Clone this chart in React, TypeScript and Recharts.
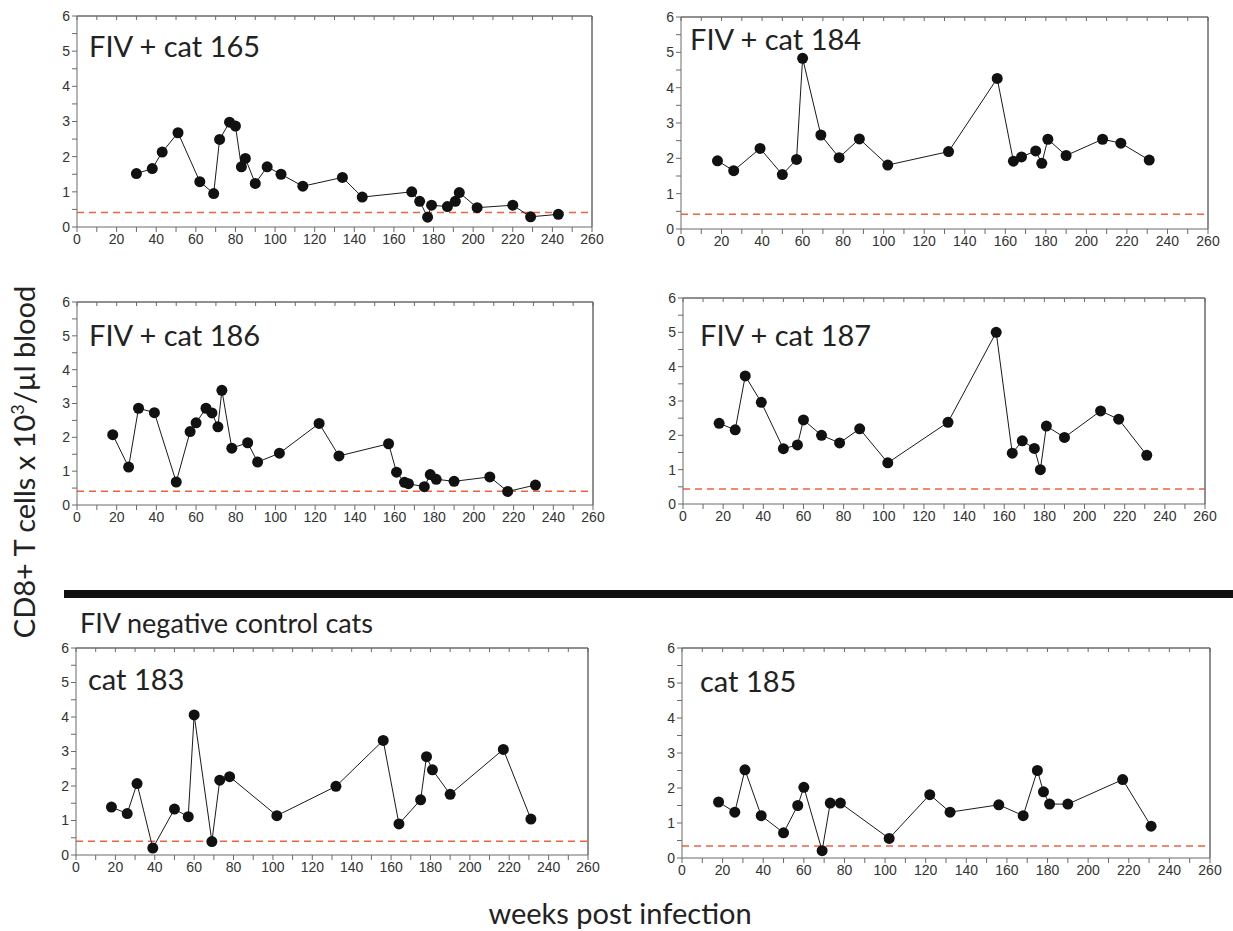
import { LineChart, Line, XAxis, YAxis, ReferenceLine } from 'recharts';

const xTicks = [0, 10, 20, 30, 40, 50, 60, 70, 80, 90, 100, 110, 120, 130, 140, 150, 160, 170, 180, 190, 200, 210, 220, 230, 240, 250, 260];
const yTicks = [0, 0.5, 1, 1.5, 2, 2.5, 3, 3.5, 4, 4.5, 5, 5.5, 6];

// FIV + cat 165
const weeks165 = [30, 38, 43, 51, 62, 69, 72, 77, 80, 83, 85, 90, 96, 103, 114, 134, 144, 169, 173, 177, 179, 187, 191, 193, 202, 220, 229, 243];
const cd8_165 = [1.52, 1.66, 2.13, 2.68, 1.29, 0.95, 2.49, 2.98, 2.87, 1.71, 1.95, 1.24, 1.71, 1.5, 1.16, 1.41, 0.85, 1.0, 0.73, 0.28, 0.62, 0.58, 0.73, 0.98, 0.55, 0.62, 0.29, 0.36];

// FIV + cat 184
const weeks184 = [18, 26, 39, 50, 57, 60, 69, 78, 88, 102, 132, 156, 164, 168, 175, 178, 181, 190, 208, 217, 231];
const cd8_184 = [1.93, 1.65, 2.28, 1.54, 1.97, 4.83, 2.66, 2.02, 2.55, 1.81, 2.19, 4.26, 1.92, 2.04, 2.21, 1.86, 2.54, 2.08, 2.54, 2.43, 1.95];

// FIV + cat 186
const weeks186 = [18, 26, 31, 39, 50, 57, 60, 65, 68, 71, 73, 78, 86, 91, 102, 122, 132, 157, 161, 165, 167, 175, 178, 181, 190, 208, 217, 231];
const cd8_186 = [2.08, 1.12, 2.86, 2.73, 0.68, 2.17, 2.43, 2.86, 2.72, 2.31, 3.39, 1.68, 1.84, 1.27, 1.53, 2.41, 1.45, 1.81, 0.97, 0.67, 0.63, 0.54, 0.9, 0.76, 0.7, 0.83, 0.4, 0.59];

// FIV + cat 187
const weeks187 = [18, 26, 31, 39, 50, 57, 60, 69, 78, 88, 102, 132, 156, 164, 169, 175, 178, 181, 190, 208, 217, 231];
const cd8_187 = [2.35, 2.16, 3.73, 2.96, 1.61, 1.72, 2.45, 2.0, 1.78, 2.19, 1.2, 2.38, 5.0, 1.48, 1.84, 1.62, 1.0, 2.27, 1.94, 2.71, 2.47, 1.42];

// control cat 183
const weeks183 = [18, 26, 31, 39, 50, 57, 60, 69, 73, 78, 102, 132, 156, 164, 175, 178, 181, 190, 217, 231];
const cd8_183 = [1.39, 1.2, 2.07, 0.2, 1.33, 1.11, 4.06, 0.39, 2.17, 2.27, 1.14, 1.99, 3.32, 0.9, 1.6, 2.85, 2.47, 1.76, 3.06, 1.04];

// control cat 185
const weeks185 = [18, 26, 31, 39, 50, 57, 60, 69, 73, 78, 102, 122, 132, 156, 168, 175, 178, 181, 190, 217, 231];
const cd8_185 = [1.6, 1.31, 2.52, 1.21, 0.72, 1.5, 2.02, 0.21, 1.57, 1.57, 0.56, 1.81, 1.31, 1.52, 1.21, 2.5, 1.89, 1.54, 1.54, 2.24, 0.91];

const cutoffs = { c165: 0.41, c184: 0.42, c186: 0.41, c187: 0.44, c183: 0.4, c185: 0.34 };

const tickFont = { fill: '#333', fontSize: 14, fontFamily: '"Liberation Sans", Arial, sans-serif' };
const frame = '#6a6a6a';

type Box = { left: number; top: number; right: number; bottom: number };

function Panel({ weeks, values, cutoff, box, title, titleX, titleY }: {
  weeks: number[]; values: number[]; cutoff: number; box: Box; title: string; titleX: number; titleY: number;
}) {
  const data = weeks.map((w, i) => ({ week: w, cd8: values[i] }));
  const yAxisW = 40;
  const chartLeft = box.left - yAxisW - 5;
  const chartTop = box.top - 10;
  const width = box.right - chartLeft + 24;
  const height = box.bottom - chartTop + 32;
  return (
    <>
      <div style={{ position: 'absolute', left: chartLeft, top: chartTop }}>
        <LineChart width={width} height={height} data={data} margin={{ top: 10, right: 23, left: 5, bottom: 0 }}>
          <XAxis
            xAxisId="b"
            dataKey="week"
            type="number"
            domain={[0, 260]}
            ticks={xTicks}
            interval={0}
            height={32}
            stroke={frame}
            tickSize={5}
            tick={tickFont}
            tickFormatter={(v) => (v % 20 === 0 ? String(v) : '')}
          />
          <XAxis
            xAxisId="t"
            orientation="top"
            dataKey="week"
            type="number"
            domain={[0, 260]}
            ticks={xTicks}
            interval={0}
            height={1}
            mirror
            stroke={frame}
            tickSize={4}
            tick={{ fontSize: 0 }}
            tickFormatter={() => ''}
          />
          <YAxis
            yAxisId="l"
            type="number"
            domain={[0, 6]}
            ticks={yTicks}
            interval={0}
            width={yAxisW}
            stroke={frame}
            tickSize={5}
            tick={tickFont}
            tickFormatter={(v) => (Number.isInteger(v) ? String(v) : '')}
          />
          <YAxis
            yAxisId="r"
            orientation="right"
            type="number"
            domain={[0, 6]}
            ticks={yTicks}
            interval={0}
            width={1}
            mirror
            stroke={frame}
            tickSize={4}
            tick={{ fontSize: 0 }}
            tickFormatter={() => ''}
          />
          <ReferenceLine xAxisId="b" yAxisId="l" y={6} stroke={frame} strokeWidth={1} />
          <ReferenceLine xAxisId="b" yAxisId="l" x={260} stroke={frame} strokeWidth={1} />
          <ReferenceLine xAxisId="b" yAxisId="l" y={cutoff} stroke="#f0623c" strokeWidth={1.5} strokeDasharray="7 5" />
          <Line
            xAxisId="b"
            yAxisId="l"
            type="linear"
            dataKey="cd8"
            stroke="#1a1a1a"
            strokeWidth={1}
            dot={{ r: 5.5, fill: '#111', stroke: '#111', strokeWidth: 0 }}
            isAnimationActive={false}
          />
        </LineChart>
      </div>
      <div style={{ position: 'absolute', left: titleX, top: titleY, transform: 'translateY(-50%)', fontFamily: 'Lato, sans-serif', fontSize: 29, color: '#222', whiteSpace: 'nowrap' }}>
        {title}
      </div>
    </>
  );
}

export default function App() {
  return (
    <div style={{ position: 'absolute', left: 0, top: 0, width: 1233, height: 931, background: '#fff', overflow: 'hidden' }}>
      <Panel weeks={weeks165} values={cd8_165} cutoff={cutoffs.c165} box={{ left: 77, top: 16, right: 591, bottom: 227 }} title="FIV + cat 165" titleX={89} titleY={45} />
      <Panel weeks={weeks184} values={cd8_184} cutoff={cutoffs.c184} box={{ left: 681, top: 17, right: 1207, bottom: 229 }} title="FIV + cat 184" titleX={690} titleY={38} />
      <Panel weeks={weeks186} values={cd8_186} cutoff={cutoffs.c186} box={{ left: 77, top: 302, right: 592, bottom: 505 }} title="FIV + cat 186" titleX={89} titleY={334} />
      <Panel weeks={weeks187} values={cd8_187} cutoff={cutoffs.c187} box={{ left: 683, top: 298, right: 1204, bottom: 504 }} title="FIV + cat 187" titleX={700} titleY={334} />
      <Panel weeks={weeks183} values={cd8_183} cutoff={cutoffs.c183} box={{ left: 76, top: 648, right: 587, bottom: 855 }} title="cat 183" titleX={88} titleY={678} />
      <Panel weeks={weeks185} values={cd8_185} cutoff={cutoffs.c185} box={{ left: 682, top: 648, right: 1209, bottom: 858 }} title="cat 185" titleX={700} titleY={680} />

      <div style={{ position: 'absolute', left: 64, top: 590, width: 1169, height: 8, background: '#111' }} />
      <div style={{ position: 'absolute', left: 80, top: 622, transform: 'translateY(-50%)', fontFamily: 'Lato, sans-serif', fontSize: 27, color: '#222', whiteSpace: 'nowrap' }}>
        FIV negative control cats
      </div>
      <div style={{ position: 'absolute', left: 620, top: 912, transform: 'translate(-50%, -50%)', fontFamily: 'Lato, sans-serif', fontSize: 29, color: '#222', whiteSpace: 'nowrap' }}>
        weeks post infection
      </div>
      <div style={{ position: 'absolute', left: 23, top: 462, transform: 'translate(-50%, -50%) rotate(-90deg)', fontFamily: 'Lato, sans-serif', fontSize: 29, color: '#222', whiteSpace: 'nowrap' }}>
        CD8+ T cells x 10<sup style={{ fontSize: 18 }}>3</sup>/µl blood
      </div>
    </div>
  );
}
